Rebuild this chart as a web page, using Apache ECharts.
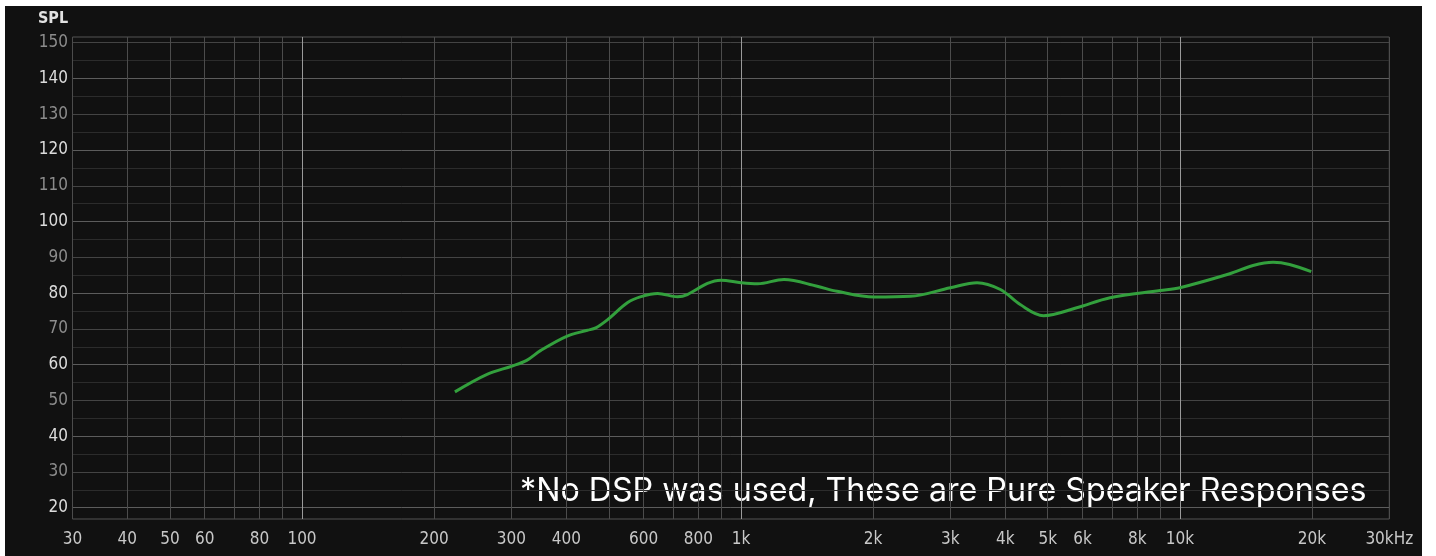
<!DOCTYPE html>
<html><head><meta charset="utf-8">
<script src="https://cdn.jsdelivr.net/npm/echarts@6/dist/echarts.min.js"></script>
<style>html,body{margin:0;padding:0;background:#fff;overflow:hidden;} #c{position:absolute;left:5px;top:6px;width:1417px;height:550px;}</style>
</head><body><div id="c"></div>
<script>
// Frequency response (Hz, dB SPL)
const freqs = [223, 264, 301, 325, 350, 402, 447, 467, 497, 551, 592, 646, 717, 755, 839, 900, 1000, 1091, 1253, 1492, 1656, 2009, 2432, 3000, 3451, 3900, 4327, 4890, 5820, 6934, 9012, 10000, 12990, 14680, 16310, 17780, 19920];
const spl = [52.4, 57.3, 59.6, 61.2, 64.0, 68.0, 69.6, 70.3, 72.6, 77.3, 79.0, 79.9, 79.0, 79.6, 82.7, 83.6, 82.9, 82.6, 83.8, 81.9, 80.5, 78.9, 79.1, 81.5, 82.9, 81.0, 76.8, 73.7, 75.9, 78.7, 80.7, 81.5, 85.4, 87.7, 88.6, 88.0, 86.0];

// Axis grid and label values
const xGridValues = [30, 40, 50, 60, 70, 80, 90, 100, 200, 300, 400, 500, 600, 700, 800, 900, 1000, 2000, 3000, 4000, 5000, 6000, 7000, 8000, 9000, 10000, 20000, 30000];
const xLabelValues = [30, 40, 50, 60, 80, 100, 200, 300, 400, 600, 800, 1000, 2000, 3000, 4000, 5000, 6000, 8000, 10000, 20000, 30000];
const xBrightValues = [100, 1000, 10000];
const yGridValues = [20, 25, 30, 35, 40, 45, 50, 55, 60, 65, 70, 75, 80, 85, 90, 95, 100, 105, 110, 115, 120, 125, 130, 135, 140, 145, 150];
const yLabelValues = [20, 30, 40, 50, 60, 70, 80, 90, 100, 110, 120, 130, 140, 150];

const tickFont = "'DejaVu Sans Condensed', 'Liberation Sans Narrow', 'DejaVu Sans', sans-serif";

const chart = echarts.init(document.getElementById('c'), null, {renderer: 'canvas'});
const xLineColors = xGridValues.map(v => xBrightValues.includes(v) ? '#9a9a9a' : '#4c4c4c');
const yLineColors = yGridValues.map(v => (v % 20 === 0) ? '#5c5c5c' : (v % 10 === 0 ? '#444444' : '#2c2c2c'));

chart.setOption({
  backgroundColor: '#111111',
  animation: false,
  grid: {left: 67.5, top: 31, right: 32.7, bottom: 37, show: true, borderColor: '#555555', borderWidth: 1, backgroundColor: 'transparent'},
  xAxis: {
    type: 'log', logBase: 10, min: 30, max: 30000,
    axisLine: {show: false},
    axisTick: {show: false, customValues: xGridValues},
    axisLabel: {
      customValues: xLabelValues,
      color: '#c8c8c8', fontFamily: tickFont, fontSize: 17, margin: 12,
      formatter: v => v >= 30000 ? '30kHz' : (v >= 1000 ? (v / 1000) + 'k' : String(v))
    },
    splitLine: {show: true, lineStyle: {color: xLineColors, width: 1}},
    minorSplitLine: {show: false}
  },
  yAxis: {
    type: 'value', min: 16.85, max: 151.6,
    axisLine: {show: false},
    axisTick: {show: false, customValues: yGridValues},
    axisLabel: {
      customValues: yLabelValues,
      fontFamily: tickFont, fontSize: 17, margin: 4.5,
      color: v => (v % 20 === 0) ? '#dcdcdc' : '#8c8c8c'
    },
    splitLine: {show: true, lineStyle: {color: yLineColors, width: 1}}
  },
  graphic: [
    {type: 'text', left: 33, top: 5, style: {text: 'SPL', fill: '#e2e2e2', font: "bold 16px 'DejaVu Sans Condensed', 'DejaVu Sans', sans-serif"}},
    {type: 'text', x: 515, y: 485, style: {text: '*No DSP was used, These are Pure Speaker Responses', fill: '#ffffff', font: "32.2px Inter, 'Open Sans', sans-serif", verticalAlign: 'middle', align: 'left'}}
  ],
  series: [{
    type: 'line', data: freqs.map((f, i) => [f, spl[i]]),
    smooth: 0.35, showSymbol: false, symbol: 'none',
    lineStyle: {color: '#33a03d', width: 3},
    z: 5
  }]
});
</script>
</body></html>
